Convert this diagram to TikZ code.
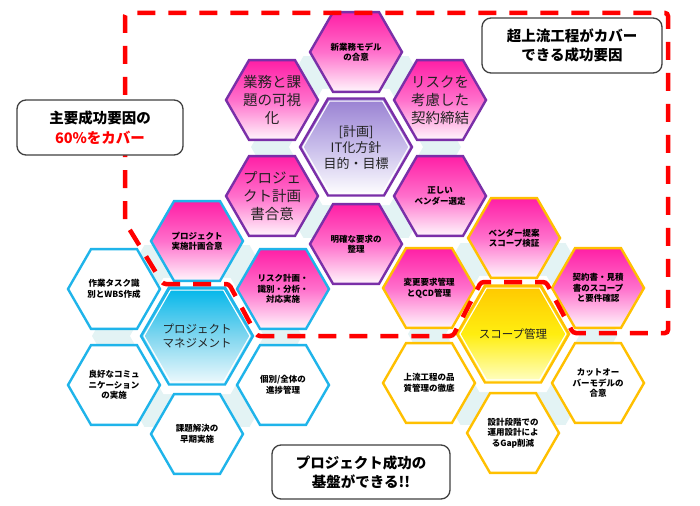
\documentclass[tikz,border=0pt]{standalone}
\usepackage{fontspec}
\setmainfont{Noto Sans CJK JP}
\usetikzlibrary{shapes.geometric}
\definecolor{pk}{HTML}{FF1FA5}
\definecolor{pkmid}{HTML}{FF70CC}
\definecolor{pkbot}{HTML}{FFF6FC}
\definecolor{pur}{HTML}{7A2FA8}
\definecolor{purtop}{HTML}{9880D2}
\definecolor{purmid}{HTML}{C9BEEB}
\definecolor{cy}{HTML}{1FB4EA}
\definecolor{cytop}{HTML}{00B6EA}
\definecolor{cymid}{HTML}{7FD6EF}
\definecolor{cybot}{HTML}{F0FAFD}
\definecolor{yl}{HTML}{FFC000}
\definecolor{yltop}{HTML}{FFC800}
\definecolor{ylmid}{HTML}{FFEE10}
\definecolor{ylbot}{HTML}{FFFFC8}
\definecolor{pale}{HTML}{E3F3F4}
\definecolor{rd}{HTML}{FF0000}
\definecolor{bx}{HTML}{404040}
\definecolor{txt}{HTML}{222222}
\tikzset{
  hexbase/.style={regular polygon, regular polygon sides=6, inner sep=0pt, outer sep=0pt, minimum size=92pt, line width=2.4pt},
  bighexbase/.style={hexbase, minimum size=112pt},
  pinkfill/.style={top color=pk, bottom color=pkbot, middle color=pkmid},
  purhex/.style={hexbase, pinkfill, draw=pur},
  cypink/.style={hexbase, pinkfill, draw=cy},
  ylpink/.style={hexbase, pinkfill, draw=yl},
  cywhite/.style={hexbase, fill=white, draw=cy},
  ylwhite/.style={hexbase, fill=white, draw=yl},
  purcenter/.style={bighexbase, top color=purtop, bottom color=white, middle color=purmid, draw=pur},
  cycenter/.style={bighexbase, top color=cytop, bottom color=cybot, middle color=cymid, draw=cy},
  ylcenter/.style={bighexbase, top color=yltop, bottom color=ylbot, middle color=ylmid, draw=yl},
  innerline/.style={regular polygon, regular polygon sides=6, inner sep=0pt, minimum size=106pt, draw=white, line width=1.1pt},
  palebg/.style={regular polygon, regular polygon sides=6, inner sep=0pt, minimum size=210pt, fill=pale},
  whitecover/.style={regular polygon, regular polygon sides=6, inner sep=0pt, minimum size=134pt, fill=white},
  smalltxt/.style={font=\bfseries\fontsize{8.5pt}{10.5pt}\selectfont, align=center, inner sep=0pt, text=black},
  bigtxt/.style={font=\fontsize{14.5pt}{18pt}\selectfont, align=center, inner sep=0pt, text=txt},
  centertxt/.style={font=\fontsize{11.5pt}{14pt}\selectfont, align=center, inner sep=0pt, text=txt},
  plantxt/.style={font=\fontsize{13pt}{16pt}\selectfont, align=center, inner sep=0pt, text=txt},
  callout/.style={draw=bx, line width=1.3pt, rounded corners=9pt, fill=white, align=center, inner sep=0pt,
    font=\bfseries\fontsize{14.5pt}{19.5pt}\selectfont},
  reddash/.style={draw=rd, line width=4.5pt, dash pattern=on 18pt off 13pt, rounded corners=3pt}
}
\begin{document}
\begin{tikzpicture}[x=1pt,y=-1pt]
\useasboundingbox[fill=white] (0,0) rectangle (700,505);
% pale background hexes
\node[palebg] (bgP) at (356,147) {};
\node[palebg] (bgB) at (197,336) {};
\node[palebg] (bgY) at (513,334) {};
\node[whitecover] (wcP) at (356,147) {};
\node[whitecover] (wcB) at (197,336) {};
\node[whitecover] (wcY) at (513,334) {};
% purple cluster
\node[purcenter] (hP) at (356,147) {};
\node[innerline] (hPi) at (356,147) {};
\node[purhex] (hP1) at (356,52) {};
\node[purhex] (hP2) at (272,100) {};
\node[purhex] (hP3) at (440,100) {};
\node[purhex] (hP4) at (272,196) {};
\node[purhex] (hP5) at (440,196) {};
\node[purhex] (hP6) at (356,244) {};
% blue cluster
\node[cycenter] (hB) at (197,336) {};
\node[innerline] (hBi) at (197,336) {};
\node[cypink] (hB1) at (197,241) {};
\node[cypink] (hB2) at (283,289) {};
\node[cywhite] (hB3) at (114,289) {};
\node[cywhite] (hB4) at (114,385) {};
\node[cywhite] (hB5) at (283,385) {};
\node[cywhite] (hB6) at (197,434) {};
% yellow cluster
\node[ylcenter] (hY) at (513,334) {};
\node[innerline] (hYi) at (513,334) {};
\node[ylpink] (hY1) at (514,238) {};
\node[ylpink] (hY2) at (429,288) {};
\node[ylpink] (hY3) at (598,288) {};
\node[ylwhite] (hY4) at (429,383) {};
\node[ylwhite] (hY5) at (598,383) {};
\node[ylwhite] (hY6) at (513,433) {};
% texts
\node[plantxt] (tP) at (356,148) {[計画]\\IT化方針\\目的・目標};
\node[smalltxt] (tP1) at (356,52) {新業務モデル\\の合意};
\node[bigtxt] (tP2) at (272,100) {業務と課\\題の可視\\化};
\node[bigtxt] (tP3) at (440,100) {リスクを\\考慮した\\契約締結};
\node[bigtxt] (tP4) at (272,196) {プロジェ\\クト計画\\書合意};
\node[smalltxt] (tP5) at (440,196) {正しい\\ベンダー選定};
\node[smalltxt] (tP6) at (356,244) {明確な要求の\\整理};
\node[centertxt] (tB) at (197,336) {プロジェクト\\マネジメント};
\node[smalltxt] (tB1) at (197,241) {プロジェクト\\実施計画合意};
\node[smalltxt] (tB2) at (283,289) {リスク計画・\\識別・分析・\\対応実施};
\node[smalltxt] (tB3) at (114,289) {作業タスク識\\別とWBS作成};
\node[smalltxt] (tB4) at (114,385) {良好なコミュ\\ニケーション\\の実施};
\node[smalltxt] (tB5) at (283,385) {個別/全体の\\進捗管理};
\node[smalltxt] (tB6) at (197,434) {課題解決の\\早期実施};
\node[centertxt] (tY) at (513,334) {スコープ管理};
\node[smalltxt] (tY1) at (514,238) {ベンダー提案\\スコープ検証};
\node[smalltxt] (tY2) at (429,288) {変更要求管理\\とQCD管理};
\node[smalltxt] (tY3) at (598,288) {契約書・見積\\書のスコープ\\と要件確認};
\node[smalltxt] (tY4) at (429,383) {上流工程の品\\質管理の徹底};
\node[smalltxt] (tY5) at (598,383) {カットオー\\バーモデルの\\合意};
\node[smalltxt] (tY6) at (513,433) {設計段階での\\運用設計によ\\るGap削減};
% red dashed boundary
\draw[reddash] (125,222) -- (125,13) -- (668,13) -- (668,333) -- (573,333) -- (546,282) -- (481,282)
  -- (453,336) -- (257,336) -- (229,284) -- (163,284) -- cycle;
% callout boxes
\node[callout, minimum width=166pt, minimum height=55pt] (boxA) at (100,127.5)
  {主要成功要因の\\\textcolor{rd}{60\%をカバー}};
\node[callout, minimum width=180pt, minimum height=55pt] (boxB) at (572,45.5)
  {超上流工程がカバー\\できる成功要因};
\node[callout, minimum width=178pt, minimum height=54pt] (boxC) at (361,472)
  {プロジェクト成功の\\基盤ができる!!};
\end{tikzpicture}
\end{document}
